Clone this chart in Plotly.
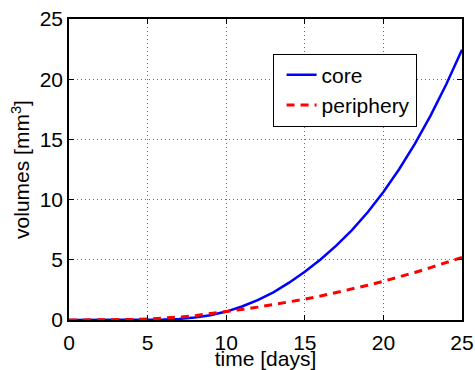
import plotly.graph_objects as go

# Tumour volume over time for the two compartments
days = list(range(0, 26))
core = [0.0, 0.0, 0.0, 0.0, 0.003, 0.012, 0.035, 0.09, 0.2, 0.4, 0.7,
        1.12, 1.65, 2.3, 3.1, 4.0, 5.02, 6.17, 7.47, 8.95, 10.63,
        12.52, 14.63, 16.98, 19.58, 22.45]
periphery = [0.0, 0.002, 0.008, 0.02, 0.045, 0.08, 0.14, 0.24, 0.36, 0.52, 0.7,
             0.88, 1.07, 1.27, 1.5, 1.73, 1.99, 2.27, 2.57, 2.88, 3.22,
             3.57, 3.95, 4.35, 4.76, 5.2]
ticks = [0, 5, 10, 15, 20, 25]

FONT = "Liberation Sans, Arial, Helvetica, sans-serif"
FS = 21

fig = go.Figure()
fig.add_trace(go.Scatter(x=days, y=core, name="core", mode="lines",
                         line=dict(color="#0000ff", width=2.5)))
fig.add_trace(go.Scatter(x=days, y=periphery, name="periphery", mode="lines",
                         line=dict(color="#ff0000", width=3, dash="8px,6px")))

axis_common = dict(
    showline=True, linecolor="black", linewidth=1.5, mirror="ticks",
    ticks="inside", ticklen=5, tickwidth=1, tickcolor="black",
    showgrid=True, gridcolor="#6e6e6e", gridwidth=1, griddash="1px,3px",
    zeroline=False, automargin=False,
    tickfont=dict(family=FONT, size=FS, color="black"),
    tickmode="array", tickvals=ticks, ticktext=[str(t) for t in ticks],
)

fig.update_xaxes(range=[0, 25], ticklabelstandoff=3,
                 title=dict(text="time [days]", standoff=9,
                            font=dict(family=FONT, size=FS, color="black")),
                 **axis_common)
fig.update_yaxes(range=[0, 25],
                 title=dict(text="volumes [mm<sup>3</sup>]", standoff=4,
                            font=dict(family=FONT, size=FS, color="black")),
                 **axis_common)

fig.update_layout(
    width=475, height=370,
    margin=dict(l=69, r=13, t=19, b=50),
    paper_bgcolor="white", plot_bgcolor="white",
    showlegend=True,
    legend=dict(x=0.518, y=0.885, xanchor="left", yanchor="top",
                bgcolor="white", bordercolor="black", borderwidth=1,
                font=dict(family=FONT, size=FS, color="black"),
                tracegroupgap=0, itemwidth=30, indentation=8),
)

fig.write_html("out.html")
